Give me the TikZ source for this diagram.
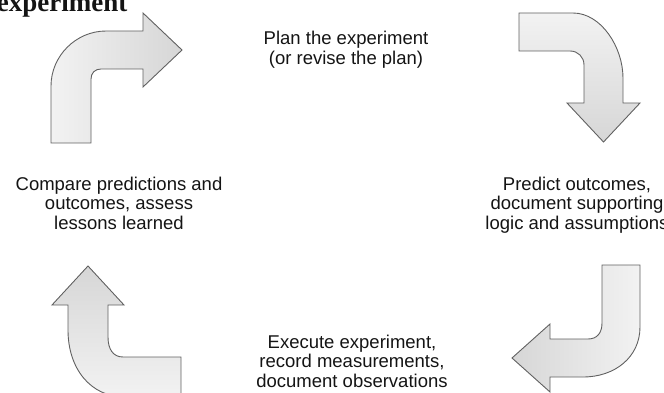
\documentclass[tikz,border=0pt]{standalone}
\usepackage{fontspec}
\setmainfont{Liberation Sans}
\newfontfamily\headfont{Liberation Serif}
\usepackage{tikz}

\begin{document}
\begin{tikzpicture}[x=1pt, y=-1pt,
  every node/.style={inner sep=0pt, outer sep=0pt, text=black!92},
  steptext/.style={align=center, font=\fontsize{18.5}{19.5}\selectfont},
  bentarrow/.style={draw=black!62, line width=0.9pt, line join=miter}]
\useasboundingbox (0,0) rectangle (664,393);
\clip (0,0) rectangle (664,393);

% cut-off heading at the top
\node[anchor=base west, font=\headfont\bfseries\fontsize{27}{29}\selectfont] (heading) at (-3,12) {experiment};

% the four steps
\node[steptext] (plan) at (346,49.5) {Plan the experiment\\(or revise the plan)};
\node[steptext] (predict) at (577,205) {Predict outcomes,\\document supporting\\logic and assumptions};
\node[steptext] (execute) at (352,361) {Execute experiment,\\record measurements,\\document observations};
\node[steptext] (compare) at (119,203) {Compare predictions and\\outcomes, assess\\lessons learned};

% top left: up, then right
\path[bentarrow, left color=gray!10, right color=gray!32]
  (51,143) -- (51,86) .. controls (51,56) and (76,31) .. (106,31) -- (143,31) -- (143,13)
  -- (182,50) -- (143,87) -- (143,69) -- (101,69) .. controls (95,69) and (91,73) .. (91,79)
  -- (91,143) -- cycle;

% top right: right, then down
\path[bentarrow, top color=gray!10, bottom color=gray!32]
  (519,13) -- (573,13) .. controls (601,13) and (623,47) .. (623,78) -- (623,103) -- (640,103)
  -- (603.5,142) -- (567,103) -- (584,103) -- (584,65) .. controls (584,57) and (578,51) .. (570,51)
  -- (519,51) -- cycle;

% bottom right: down, then left
\path[bentarrow, left color=gray!32, right color=gray!10]
  (602,265) -- (640,265) -- (640,327) .. controls (640,357) and (615,377) .. (583,377) -- (550,377)
  -- (550,392) -- (512,358) -- (550,324) -- (550,339) -- (588,339) .. controls (597,339) and (602,333) .. (602,323)
  -- cycle;

% bottom left: left, then up
\path[bentarrow, top color=gray!32, bottom color=gray!10]
  (181,397) -- (125,397) .. controls (90,397) and (68,368) .. (68,330) -- (68,305) -- (52,305)
  -- (88,266) -- (124,305) -- (108,305) -- (108,337) .. controls (108,349) and (113,357) .. (123,357)
  -- (181,357) -- cycle;
\end{tikzpicture}
\end{document}
